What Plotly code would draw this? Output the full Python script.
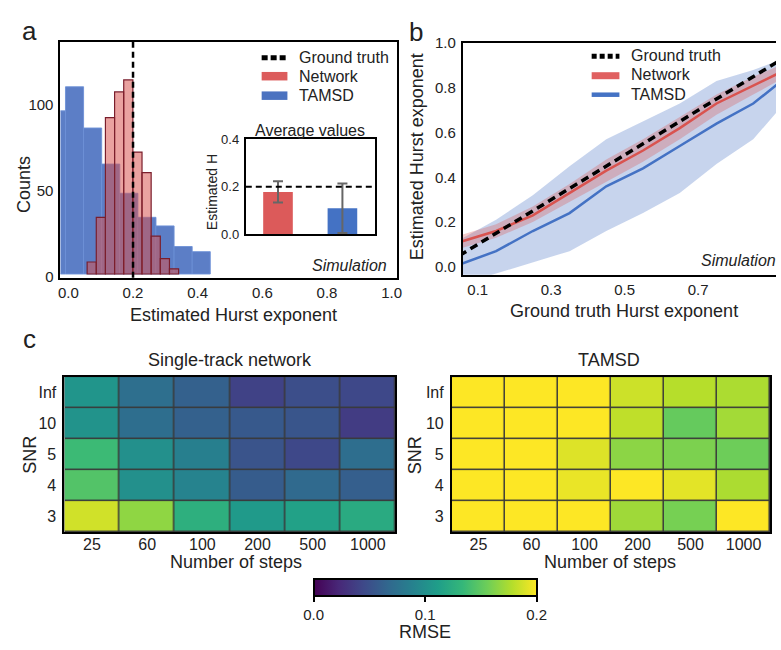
import plotly.graph_objects as go

# ------------------------------------------------------------------ data
GT_H = 0.2

TAMSD_BIN_START = -0.065
TAMSD_BIN_WIDTH = 0.056
TAMSD_COUNTS = [95, 109, 85, 64, 47, 33, 28, 16, 13]

NET_BIN_START = 0.058
NET_BIN_WIDTH = 0.0283
NET_COUNTS = [7, 33, 91, 106, 113, 71, 59, 22, 9, 3]

AVG_METHODS = ["Network", "TAMSD"]
AVG_MEANS = [0.178, 0.109]
AVG_ERRORS = [0.045, 0.105]

GT_VALUES = [0.05, 0.15, 0.25, 0.35, 0.45, 0.55, 0.65, 0.75, 0.85, 0.95]
NET_MEAN = [0.11, 0.16, 0.23, 0.33, 0.43, 0.52, 0.62, 0.73, 0.81, 0.89]
NET_UPPER = [0.14, 0.19, 0.27, 0.37, 0.48, 0.57, 0.67, 0.77, 0.85, 0.92]
NET_LOWER = [0.08, 0.13, 0.20, 0.29, 0.38, 0.47, 0.57, 0.68, 0.77, 0.86]
TAMSD_MEAN = [0.01, 0.07, 0.16, 0.24, 0.36, 0.44, 0.54, 0.64, 0.73, 0.86]
TAMSD_UPPER = [0.12, 0.21, 0.32, 0.45, 0.57, 0.65, 0.73, 0.83, 0.88, 0.94]
TAMSD_LOWER = [-0.08, -0.03, 0.02, 0.07, 0.16, 0.24, 0.33, 0.46, 0.57, 0.76]

LEGEND_LABELS = ["Ground truth", "Network", "TAMSD"]

STEPS = ["25", "60", "100", "200", "500", "1000"]
SNR = ["Inf", "10", "5", "4", "3"]
RMSE_NET = [
    [0.104, 0.073, 0.062, 0.040, 0.048, 0.044],
    [0.102, 0.072, 0.062, 0.056, 0.053, 0.036],
    [0.136, 0.100, 0.086, 0.052, 0.044, 0.072],
    [0.145, 0.100, 0.090, 0.058, 0.068, 0.060],
    [0.186, 0.166, 0.126, 0.108, 0.114, 0.122],
]
RMSE_TAMSD = [
    [0.21, 0.21, 0.205, 0.185, 0.178, 0.175],
    [0.21, 0.21, 0.21, 0.181, 0.152, 0.172],
    [0.21, 0.21, 0.19, 0.165, 0.160, 0.155],
    [0.21, 0.21, 0.194, 0.21, 0.192, 0.175],
    [0.21, 0.21, 0.205, 0.171, 0.158, 0.205],
]

# ------------------------------------------------------------------ style
W, H = 781, 650
FONT = "Liberation Sans, Arial, sans-serif"
TXT = "#222222"
RED = "#d9534f"
BLUE = "#4472c4"


def px(x):
    return x / W


def py(y):
    return 1 - y / H


fig = go.Figure()

# ------------------------------------------------------------------ panel a histograms
tamsd_centers = [TAMSD_BIN_START + TAMSD_BIN_WIDTH * (i + 0.5) for i in range(len(TAMSD_COUNTS))]
net_centers = [NET_BIN_START + NET_BIN_WIDTH * (i + 0.5) for i in range(len(NET_COUNTS))]

fig.add_trace(go.Bar(
    x=tamsd_centers, y=TAMSD_COUNTS, width=TAMSD_BIN_WIDTH,
    marker=dict(color="rgba(70,108,190,0.88)", line=dict(color="rgba(110,145,215,0.9)", width=1)),
    xaxis="x", yaxis="y", showlegend=False, hoverinfo="skip"))
fig.add_trace(go.Bar(
    x=net_centers, y=NET_COUNTS, width=NET_BIN_WIDTH,
    marker=dict(color="rgba(217,83,79,0.54)", line=dict(color="#7a1e2c", width=1.2)),
    xaxis="x", yaxis="y", showlegend=False, hoverinfo="skip"))

# ------------------------------------------------------------------ inset
fig.add_trace(go.Bar(
    x=AVG_METHODS, y=AVG_MEANS, width=0.46,
    marker=dict(color=["#dc5a5a", BLUE], line=dict(width=0)),
    error_y=dict(type="data", array=AVG_ERRORS, color="#666666", thickness=2, width=5),
    xaxis="x3", yaxis="y3", showlegend=False, hoverinfo="skip"))

# ------------------------------------------------------------------ panel b
fig.add_trace(go.Scatter(x=GT_VALUES, y=TAMSD_UPPER, mode="lines", line=dict(width=0),
                         xaxis="x2", yaxis="y2", showlegend=False, hoverinfo="skip"))
fig.add_trace(go.Scatter(x=GT_VALUES, y=TAMSD_LOWER, mode="lines", line=dict(width=0),
                         fill="tonexty", fillcolor="rgba(68,114,196,0.3)",
                         xaxis="x2", yaxis="y2", showlegend=False, hoverinfo="skip"))
fig.add_trace(go.Scatter(x=GT_VALUES, y=NET_UPPER, mode="lines", line=dict(width=0),
                         xaxis="x2", yaxis="y2", showlegend=False, hoverinfo="skip"))
fig.add_trace(go.Scatter(x=GT_VALUES, y=NET_LOWER, mode="lines", line=dict(width=0),
                         fill="tonexty", fillcolor="rgba(217,83,79,0.3)",
                         xaxis="x2", yaxis="y2", showlegend=False, hoverinfo="skip"))
fig.add_trace(go.Scatter(x=GT_VALUES, y=TAMSD_MEAN, mode="lines", line=dict(color=BLUE, width=2.5),
                         xaxis="x2", yaxis="y2", name="TAMSD", showlegend=False))
fig.add_trace(go.Scatter(x=GT_VALUES, y=NET_MEAN, mode="lines", line=dict(color=RED, width=2.5),
                         xaxis="x2", yaxis="y2", name="Network", showlegend=False))
fig.add_trace(go.Scatter(x=GT_VALUES, y=GT_VALUES, mode="lines",
                         line=dict(color="black", width=3.5, dash="8px,5px"),
                         xaxis="x2", yaxis="y2", name="Ground truth", showlegend=False))

# ------------------------------------------------------------------ panel c heatmaps
fig.add_trace(go.Heatmap(z=RMSE_NET, x=STEPS, y=SNR, coloraxis="coloraxis",
                         xgap=1.5, ygap=1.5, xaxis="x4", yaxis="y4"))
fig.add_trace(go.Heatmap(z=RMSE_TAMSD, x=STEPS, y=SNR, coloraxis="coloraxis",
                         xgap=1.5, ygap=1.5, xaxis="x5", yaxis="y5"))

# ------------------------------------------------------------------ axes
frame = dict(showline=True, linecolor="black", linewidth=2, mirror=True,
             showgrid=False, zeroline=False, ticks="", color=TXT)
ytk = dict(ticks="outside", ticklen=2, tickcolor="rgba(0,0,0,0)")

fig.update_layout(
    xaxis=dict(frame, domain=[px(59), px(399)], range=[-0.0245, 1.018],
               tickvals=[0, 0.2, 0.4, 0.6, 0.8, 1.0], tickformat=".1f",
               tickfont=dict(size=15), anchor="y"),
    yaxis=dict(frame, **ytk, domain=[py(276), py(34)], range=[-2.2, 135],
               tickvals=[0, 50, 100], tickfont=dict(size=15), anchor="x",
               ticklabelshift=3),
    xaxis2=dict(frame, domain=[px(465), 1.0], range=[0.0595, 0.912],
                tickvals=[0.1, 0.3, 0.5, 0.7, 0.9], tickformat=".1f",
                tickfont=dict(size=15), anchor="y2"),
    yaxis2=dict(frame, **ytk, domain=[py(273), py(35)], range=[-0.036, 1.0], mirror=False,
                tickvals=[0, 0.2, 0.4, 0.6, 0.8, 1.0], tickformat=".1f",
                tickfont=dict(size=15), anchor="x2"),
    xaxis3=dict(frame, domain=[px(246), px(376)], range=[-0.5, 1.5],
                showticklabels=False, anchor="y3"),
    yaxis3=dict(frame, **ytk, domain=[py(231), py(134)], range=[0, 0.4],
                tickvals=[0, 0.2, 0.4], tickformat=".1f",
                tickfont=dict(size=13), anchor="x3"),
    xaxis4=dict(frame, domain=[px(63), px(397)], tickfont=dict(size=16), anchor="y4",
                ticklabelstandoff=-3),
    yaxis4=dict(frame, ticks="outside", ticklen=3, tickcolor="rgba(0,0,0,0)",
                domain=[py(537), py(378)], autorange="reversed",
                tickfont=dict(size=16), anchor="x4"),
    xaxis5=dict(frame, domain=[px(454), px(775)], tickfont=dict(size=16), anchor="y5",
                ticklabelstandoff=-3),
    yaxis5=dict(frame, ticks="outside", ticklen=3, tickcolor="rgba(0,0,0,0)",
                domain=[py(537), py(378)], autorange="reversed",
                tickfont=dict(size=16), anchor="x5"),
)

# heatmap grid background
for ax in ["4", "5"]:
    fig.add_shape(type="rect", xref=f"x{ax} domain", yref=f"y{ax} domain",
                  x0=0, x1=1, y0=0, y1=1, fillcolor="#3a3a3a", line=dict(width=0),
                  layer="below")

# ground-truth reference lines
fig.add_shape(type="line", xref="x", yref="y domain", x0=GT_H, x1=GT_H, y0=0, y1=1,
              line=dict(color="black", width=2.5, dash="6px,4px"))
fig.add_shape(type="line", xref="x3 domain", yref="y3", x0=0, x1=1, y0=GT_H, y1=GT_H,
              line=dict(color="black", width=2, dash="6px,4px"))


# ------------------------------------------------------------------ text
def ann(x, y, text, size, angle=0, xanchor="center"):
    fig.add_annotation(x=px(x), y=py(y), xref="paper", yref="paper", text=text,
                       showarrow=False, textangle=angle, xanchor=xanchor, yanchor="middle",
                       font=dict(size=size, color=TXT, family=FONT))


def hline(x0, x1, y, color, width, dash=None):
    fig.add_shape(type="line", xref="paper", yref="paper",
                  x0=px(x0), x1=px(x1), y0=py(y), y1=py(y),
                  line=dict(color=color, width=width, dash=dash))


# legend of panel a (histogram patches)
hline(262, 288, 50, "black", 5, "6px,3px")
hline(262, 288, 69, "#dc5c5c", 8.5)
hline(262, 288, 89, "#4b72c0", 8.5)
for lab, yy in zip(LEGEND_LABELS, [50, 69, 89]):
    ann(298, yy, lab, 16, xanchor="left")

# legend of panel b (lines)
hline(595, 623, 48.5, "black", 5, "5px,3px")
hline(595, 623, 68.5, "#e06060", 7)
hline(595, 623, 88, BLUE, 4.5)
for lab, yy in zip(LEGEND_LABELS, [48, 67.5, 87.5]):
    ann(633, yy, lab, 16, xanchor="left")

ann(28, 23, "a", 26)
ann(418, 24, "b", 26)
ann(28, 339, "c", 26)
ann(234, 314, "Estimated Hurst exponent", 18)
ann(22, 180, "Counts", 18, angle=-90)
ann(311, 125, "Average values", 16)
ann(212, 188, "Estimated H", 14, angle=-90)
ann(390, 263, "<i>Simulation</i>", 16, xanchor="right")
ann(783, 258, "<i>Simulation</i>", 16, xanchor="right")
ann(419, 152, "Estimated Hurst exponent", 18, angle=-90)
ann(628, 310, "Ground truth Hurst exponent", 18)
ann(230, 360, "Single-track network", 18)
ann(612, 360, "TAMSD", 18)
ann(236, 568, "Number of steps", 18)
ann(613, 568, "Number of steps", 18)
ann(28, 458, "SNR", 18, angle=-90)
ann(417, 458, "SNR", 18, angle=-90)
ann(427, 640, "RMSE", 18)

fig.update_layout(
    width=W, height=H, margin=dict(l=0, r=0, t=0, b=0),
    paper_bgcolor="white", plot_bgcolor="white",
    font=dict(family=FONT, color=TXT),
    barmode="overlay", showlegend=False,
    coloraxis=dict(
        colorscale="Viridis", cmin=0, cmax=0.2,
        colorbar=dict(orientation="h", x=px(427), xanchor="center",
                      y=py(585), yanchor="top", len=223, lenmode="pixels",
                      thickness=17, xpad=0, ypad=0,
                      outlinewidth=2, outlinecolor="black",
                      ticks="outside", ticklen=5, tickwidth=2, tickcolor="black",
                      tickvals=[0, 0.1, 0.2], ticktext=["0.0", "0.1", "0.2"],
                      tickfont=dict(size=15, color=TXT))),
)

fig.write_html("out.html")
